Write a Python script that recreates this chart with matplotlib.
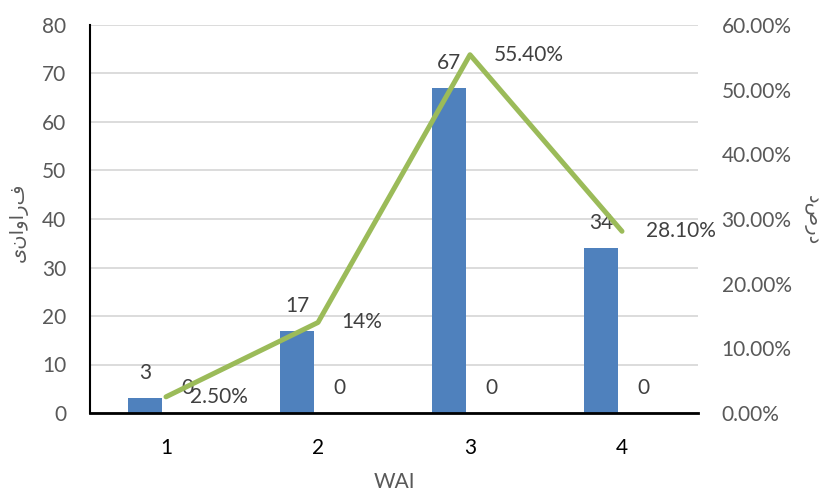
import matplotlib
matplotlib.use("Agg")
import matplotlib.pyplot as plt
from matplotlib.ticker import FuncFormatter, MultipleLocator

categories = ["1", "2", "3", "4"]
freq = [3, 17, 67, 34]
zero_series = [0, 0, 0, 0]
percent = [0.025, 0.14, 0.554, 0.281]
percent_labels = ["2.50%", "14%", "55.40%", "28.10%"]
x_title = "WAI"
y_left_title = "فراوانی"
y_right_title = "درصد"

plt.rcParams['font.family'] = ['Lato', 'DejaVu Sans']

fig = plt.figure(figsize=(8.27, 4.91), dpi=100)
ax = fig.add_axes([90/827, 1-413/491, (698-90)/827, (413-25)/491])

xs = list(range(1, len(categories)+1))
w = 0.224
off = 0.138
bar_color = "#4F81BD"
ax.bar([x - off for x in xs], freq, width=w, color=bar_color, zorder=2)
ax.bar([x + off for x in xs], zero_series, width=w, color="#C0504D", zorder=2)

for x, v in zip(xs, freq):
    ax.annotate(str(v), (x - off, v), xytext=(0, 18), textcoords="offset points",
                ha="center", va="center", fontsize=15, color="#404040", zorder=5)
for x, v in zip(xs, zero_series):
    ax.annotate(str(v), (x + off, v), xytext=(0, 18), textcoords="offset points",
                ha="center", va="center", fontsize=15, color="#404040", zorder=5)

ax.set_xlim(0.5, len(categories)+0.5)
ax.set_ylim(0, 80)
ax.yaxis.set_major_locator(MultipleLocator(10))
ax.set_xticks(xs)
ax.set_xticklabels(categories)
ax.grid(axis="y", color="#D9D9D9", linewidth=1.3, zorder=0)
ax.set_axisbelow(True)
for s in ["top", "right"]:
    ax.spines[s].set_visible(False)
ax.spines["left"].set_color("black")
ax.spines["left"].set_linewidth(1.5)
ax.spines["bottom"].set_color("black")
ax.spines["bottom"].set_linewidth(2)
ax.spines["bottom"].set_zorder(4)
ax.tick_params(axis="y", length=0, pad=17, labelsize=15, labelcolor="#595959")
ax.tick_params(axis="x", length=0, pad=18, labelsize=15, labelcolor="#000000")
ax.set_xlabel(x_title, fontsize=15, color="#595959", labelpad=10)

ax2 = ax.twinx()
ax2.set_ylim(0, 0.6)
ax2.yaxis.set_major_locator(MultipleLocator(0.1))
ax2.yaxis.set_major_formatter(FuncFormatter(lambda v, p: f"{v*100:.2f}%"))
for s in ["top", "right", "left", "bottom"]:
    ax2.spines[s].set_visible(False)
ax2.tick_params(axis="y", length=0, pad=17, labelsize=15, labelcolor="#595959")
ax2.plot(xs, percent, color="#9BBB59", linewidth=3.6, solid_capstyle="round", zorder=3)
for x, v, t in zip(xs, percent, percent_labels):
    ax2.annotate(t, (x, v), xytext=(17, 0), textcoords="offset points",
                 ha="left", va="center", fontsize=15, color="#404040", zorder=5)

fig.text(18/827, 1-222/491, y_left_title[::-1], rotation=90, ha="center", va="center",
         fontsize=14, color="#595959", family=["DejaVu Sans"])
fig.text(812/827, 1-220/491, y_right_title[::-1], rotation=270, ha="center", va="center",
         fontsize=14, color="#595959", family=["DejaVu Sans"])

fig.savefig("out.png", dpi=100)
